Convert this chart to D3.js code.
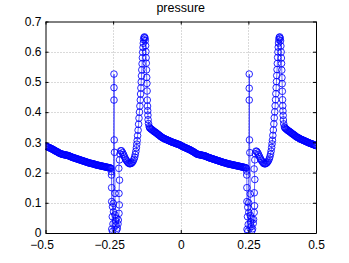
<!DOCTYPE html>
<html>
<head>
<meta charset="utf-8">
<script src="https://cdn.jsdelivr.net/npm/d3@7"></script>
<style>
  html, body { margin: 0; padding: 0; background: #fff; }
  svg text { font-family: "Liberation Sans", Arial, Helvetica, sans-serif; fill: #000; }
</style>
</head>
<body>
<svg id="chart" width="349" height="263"></svg>
<script>
// pressure profile as [x, p] pairs, segment by segment
var smoothLeft = [
  [-0.5000,0.288],[-0.4975,0.287],[-0.4950,0.286],[-0.4925,0.285],[-0.4900,0.284],[-0.4875,0.283],
  [-0.4850,0.282],[-0.4825,0.281],[-0.4800,0.280],[-0.4775,0.279],[-0.4750,0.278],[-0.4725,0.276],
  [-0.4700,0.275],[-0.4675,0.274],[-0.4650,0.273],[-0.4625,0.271],[-0.4600,0.270],[-0.4575,0.269],
  [-0.4550,0.268],[-0.4525,0.266],[-0.4500,0.265],[-0.4475,0.264],[-0.4450,0.263],[-0.4425,0.262],
  [-0.4400,0.261],[-0.4375,0.2605],[-0.4350,0.260],[-0.4325,0.2595],[-0.4300,0.259],[-0.4275,0.2585],
  [-0.4250,0.258],[-0.4225,0.2575],[-0.4200,0.257],[-0.4175,0.2565],[-0.4150,0.256],[-0.4125,0.255],
  [-0.4100,0.254],[-0.4075,0.253],[-0.4050,0.252],[-0.4025,0.251],[-0.4000,0.250],[-0.3975,0.2495],
  [-0.3950,0.249],[-0.3925,0.248],[-0.3900,0.247],[-0.3875,0.2465],[-0.3850,0.246],[-0.3825,0.245],
  [-0.3800,0.244],[-0.3775,0.2435],[-0.3750,0.243],[-0.3725,0.242],[-0.3700,0.241],[-0.3675,0.2405],
  [-0.3650,0.240],[-0.3625,0.239],[-0.3600,0.238],[-0.3575,0.2375],[-0.3550,0.237],[-0.3525,0.236],
  [-0.3500,0.235],[-0.3475,0.2345],[-0.3450,0.234],[-0.3425,0.233],[-0.3400,0.232],[-0.3375,0.2315],
  [-0.3350,0.231],[-0.3325,0.2305],[-0.3300,0.230],[-0.3275,0.2295],[-0.3250,0.229],[-0.3225,0.2285],
  [-0.3200,0.228],[-0.3175,0.227],[-0.3150,0.226],[-0.3125,0.2255],[-0.3100,0.225],[-0.3075,0.2245],
  [-0.3050,0.224],[-0.3025,0.2235],[-0.3000,0.223],[-0.2975,0.2225],[-0.2950,0.222],[-0.2925,0.2215],
  [-0.2900,0.221],[-0.2875,0.2205],[-0.2850,0.220],[-0.2825,0.2195],[-0.2800,0.219],[-0.2775,0.2185],
  [-0.2750,0.218],[-0.2725,0.2175],[-0.2700,0.217],[-0.2675,0.2165],[-0.2650,0.216],[-0.2625,0.2155],
  [-0.2600,0.215],[-0.2575,0.214]
];
var spikeA = [
  [-0.2565,0.203],[-0.2560,0.192],[-0.2555,0.150],[-0.2553,0.104],[-0.2523,0.087],[-0.2530,0.054],
  [-0.2549,0.013],[-0.2520,0.005],[-0.2505,0.030],[-0.2486,0.070],[-0.2494,0.098],[-0.2468,0.440],
  [-0.2468,0.481],[-0.2468,0.526],[-0.2460,0.308],[-0.2449,0.267],[-0.2431,0.131],[-0.2431,0.060],
  [-0.2410,0.040],[-0.2368,0.049],[-0.2394,0.026],[-0.2368,0.010],[-0.2346,0.016],[-0.2320,0.030],
  [-0.2309,0.043],[-0.2283,0.065],[-0.2272,0.093],[-0.2283,0.131],[-0.2264,0.175],[-0.2290,0.214],
  [-0.2264,0.242],[-0.2246,0.262],[-0.2220,0.272],[-0.2190,0.272]
];
var peakA = [
  [-0.2150,0.266],[-0.2120,0.260],[-0.2090,0.254],[-0.2060,0.248],[-0.2030,0.243],[-0.2000,0.239],
  [-0.1970,0.235],[-0.1940,0.232],[-0.1910,0.230],[-0.1880,0.229],[-0.1850,0.230],[-0.1820,0.231],
  [-0.1790,0.234],[-0.1760,0.238],[-0.1730,0.244],[-0.1705,0.251],[-0.1680,0.260],[-0.1660,0.270],
  [-0.1640,0.282],[-0.1625,0.294],[-0.1610,0.306],[-0.1595,0.322],[-0.1577,0.340],[-0.1558,0.360],
  [-0.1543,0.380],[-0.1525,0.400],[-0.1510,0.420],[-0.1495,0.440],[-0.1484,0.460],[-0.1473,0.480],
  [-0.1462,0.500],[-0.1451,0.520],[-0.1440,0.540],[-0.1429,0.560],[-0.1418,0.580],[-0.1407,0.598],
  [-0.1396,0.614],[-0.1384,0.628],[-0.1373,0.640],[-0.1359,0.647],[-0.1340,0.649],[-0.1322,0.645],
  [-0.1311,0.637],[-0.1299,0.620],[-0.1288,0.600],[-0.1281,0.580],[-0.1274,0.562],[-0.1266,0.540],
  [-0.1259,0.515],[-0.1251,0.495],[-0.1244,0.470],[-0.1237,0.440],[-0.1229,0.420],[-0.1222,0.405],
  [-0.1214,0.390],[-0.1207,0.375],[-0.1192,0.362],[-0.1166,0.352]
];
var smoothMid = [
  [-0.1150,0.348],[-0.1125,0.346],[-0.1100,0.344],[-0.1075,0.3425],[-0.1050,0.341],[-0.1025,0.339],
  [-0.1000,0.337],[-0.0975,0.3355],[-0.0950,0.334],[-0.0925,0.3325],[-0.0900,0.331],[-0.0875,0.329],
  [-0.0850,0.327],[-0.0825,0.3255],[-0.0800,0.324],[-0.0775,0.322],[-0.0750,0.320],[-0.0725,0.3185],
  [-0.0700,0.317],[-0.0675,0.3155],[-0.0650,0.314],[-0.0625,0.313],[-0.0600,0.312],[-0.0575,0.311],
  [-0.0550,0.310],[-0.0525,0.309],[-0.0500,0.308],[-0.0475,0.307],[-0.0450,0.306],[-0.0425,0.305],
  [-0.0400,0.304],[-0.0375,0.303],[-0.0350,0.302],[-0.0325,0.301],[-0.0300,0.300],[-0.0275,0.2995],
  [-0.0250,0.299],[-0.0225,0.298],[-0.0200,0.297],[-0.0175,0.296],[-0.0150,0.295],[-0.0125,0.2945],
  [-0.0100,0.294],[-0.0075,0.293],[-0.0050,0.292],[-0.0025,0.291],[0.0000,0.290],[0.0025,0.2885],
  [0.0050,0.287],[0.0075,0.286],[0.0100,0.285],[0.0125,0.284],[0.0150,0.283],[0.0175,0.282],
  [0.0200,0.281],[0.0225,0.280],[0.0250,0.279],[0.0275,0.278],[0.0300,0.277],[0.0325,0.276],
  [0.0350,0.275],[0.0375,0.2735],[0.0400,0.272],[0.0425,0.271],[0.0450,0.270],[0.0475,0.2685],
  [0.0500,0.267],[0.0525,0.2655],[0.0550,0.264],[0.0575,0.2625],[0.0600,0.261],[0.0625,0.2605],
  [0.0650,0.260],[0.0675,0.2595],[0.0700,0.259],[0.0725,0.2585],[0.0750,0.258],[0.0775,0.2575],
  [0.0800,0.257],[0.0825,0.2565],[0.0850,0.256],[0.0875,0.2555],[0.0900,0.255],[0.0925,0.254],
  [0.0950,0.253],[0.0975,0.252],[0.1000,0.251],[0.1025,0.250],[0.1050,0.249],[0.1075,0.2485],
  [0.1100,0.248],[0.1125,0.247],[0.1150,0.246],[0.1175,0.2455],[0.1200,0.245],[0.1225,0.244],
  [0.1250,0.243],[0.1275,0.2425],[0.1300,0.242],[0.1325,0.241],[0.1350,0.240],[0.1375,0.2395],
  [0.1400,0.239],[0.1425,0.238],[0.1450,0.237],[0.1475,0.2365],[0.1500,0.236],[0.1525,0.235],
  [0.1550,0.234],[0.1575,0.2335],[0.1600,0.233],[0.1625,0.2325],[0.1650,0.232],[0.1675,0.231],
  [0.1700,0.230],[0.1725,0.2295],[0.1750,0.229],[0.1775,0.2285],[0.1800,0.228],[0.1825,0.2275],
  [0.1850,0.227],[0.1875,0.2265],[0.1900,0.226],[0.1925,0.2255],[0.1950,0.225],[0.1975,0.2245],
  [0.2000,0.224],[0.2025,0.2235],[0.2050,0.223],[0.2075,0.2225],[0.2100,0.222],[0.2125,0.2215],
  [0.2150,0.221],[0.2175,0.2205],[0.2200,0.220],[0.2225,0.2195],[0.2250,0.219],[0.2275,0.2185],
  [0.2300,0.218],[0.2325,0.2175],[0.2350,0.217],[0.2375,0.2165],[0.2400,0.216],[0.2425,0.215]
];
var spikeB = [
  [0.2435,0.205],[0.2440,0.192],[0.2445,0.150],[0.2447,0.104],[0.2478,0.085],[0.2468,0.054],
  [0.2450,0.012],[0.2482,0.006],[0.2495,0.028],[0.2515,0.068],[0.2508,0.100],[0.2532,0.440],
  [0.2532,0.479],[0.2532,0.526],[0.2540,0.308],[0.2553,0.266],[0.2570,0.129],[0.2572,0.058],
  [0.2590,0.036],[0.2630,0.047],[0.2605,0.021],[0.2632,0.008],[0.2655,0.014],[0.2680,0.032],
  [0.2692,0.045],[0.2715,0.068],[0.2728,0.090],[0.2718,0.133],[0.2738,0.177],[0.2712,0.212],
  [0.2738,0.242],[0.2755,0.262],[0.2782,0.271],[0.2812,0.270]
];
var peakB = [
  [0.2850,0.265],[0.2880,0.259],[0.2910,0.253],[0.2940,0.247],[0.2970,0.242],[0.3000,0.238],
  [0.3030,0.234],[0.3060,0.231],[0.3090,0.229],[0.3120,0.229],[0.3150,0.230],[0.3180,0.232],
  [0.3210,0.235],[0.3240,0.239],[0.3270,0.245],[0.3295,0.252],[0.3320,0.261],[0.3340,0.271],
  [0.3360,0.283],[0.3375,0.295],[0.3390,0.307],[0.3405,0.323],[0.3423,0.341],[0.3442,0.361],
  [0.3457,0.381],[0.3475,0.401],[0.3490,0.421],[0.3505,0.441],[0.3516,0.461],[0.3527,0.481],
  [0.3538,0.501],[0.3549,0.521],[0.3560,0.541],[0.3571,0.561],[0.3582,0.581],[0.3593,0.599],
  [0.3604,0.615],[0.3616,0.629],[0.3627,0.640],[0.3641,0.647],[0.3660,0.649],[0.3678,0.644],
  [0.3689,0.636],[0.3701,0.619],[0.3712,0.599],[0.3719,0.579],[0.3726,0.561],[0.3734,0.539],
  [0.3741,0.514],[0.3749,0.494],[0.3756,0.469],[0.3763,0.441],[0.3771,0.421],[0.3778,0.404],
  [0.3786,0.389],[0.3793,0.374],[0.3808,0.361],[0.3834,0.351]
];
var smoothRight = [
  [0.3850,0.348],[0.3875,0.346],[0.3900,0.344],[0.3925,0.342],[0.3950,0.340],[0.3975,0.3385],
  [0.4000,0.337],[0.4025,0.3355],[0.4050,0.334],[0.4075,0.332],[0.4100,0.330],[0.4125,0.3285],
  [0.4150,0.327],[0.4175,0.3255],[0.4200,0.324],[0.4225,0.322],[0.4250,0.320],[0.4275,0.3185],
  [0.4300,0.317],[0.4325,0.316],[0.4350,0.315],[0.4375,0.3135],[0.4400,0.312],[0.4425,0.311],
  [0.4450,0.310],[0.4475,0.309],[0.4500,0.308],[0.4525,0.307],[0.4550,0.306],[0.4575,0.305],
  [0.4600,0.304],[0.4625,0.303],[0.4650,0.302],[0.4675,0.301],[0.4700,0.300],[0.4725,0.299],
  [0.4750,0.298],[0.4775,0.297],[0.4800,0.296],[0.4825,0.2955],[0.4850,0.295],[0.4875,0.294],
  [0.4900,0.293],[0.4925,0.292],[0.4950,0.291],[0.4975,0.290],[0.5000,0.289]
];

var xTicks = [-0.5, -0.25, 0, 0.25, 0.5];
var yTicks = [0, 0.1, 0.2, 0.3, 0.4, 0.5, 0.6, 0.7];
var chartTitle = "pressure";

var series = [].concat(smoothLeft, spikeA, peakA, smoothMid, spikeB, peakB, smoothRight);

var plotLeft = 45.5, plotRight = 316, plotTop = 21.5, plotBottom = 233;

var svg = d3.select("#chart");

var x = d3.scaleLinear().domain([-0.5, 0.5]).range([plotLeft, plotRight]);
var y = d3.scaleLinear().domain([0, 0.7]).range([plotBottom, plotTop]);

// dotted grid
var grid = svg.append("g").attr("stroke", "#b4b4b4").attr("stroke-width", 1)
  .attr("stroke-dasharray", "1,2");
grid.selectAll(".gx").data(xTicks.slice(1, -1)).enter().append("line")
  .attr("x1", d => Math.round(x(d)) + 0.5).attr("x2", d => Math.round(x(d)) + 0.5)
  .attr("y1", plotTop).attr("y2", plotBottom);
grid.selectAll(".gy").data(yTicks.slice(1, -1)).enter().append("line")
  .attr("y1", d => Math.round(y(d)) + 0.5).attr("y2", d => Math.round(y(d)) + 0.5)
  .attr("x1", plotLeft).attr("x2", plotRight);

// data
svg.append("clipPath").attr("id", "plotclip").append("rect")
  .attr("x", plotLeft).attr("y", plotTop)
  .attr("width", plotRight - plotLeft).attr("height", plotBottom - plotTop);

var plot = svg.append("g").attr("clip-path", "url(#plotclip)");

var line = d3.line().x(d => x(d[0])).y(d => y(d[1]));

plot.append("path").datum(series)
  .attr("fill", "none").attr("stroke", "#0000ff").attr("stroke-width", 0.6)
  .attr("d", line);

plot.selectAll("circle").data(series).enter().append("circle")
  .attr("cx", d => x(d[0])).attr("cy", d => y(d[1])).attr("r", 3.3)
  .attr("fill", "none").attr("stroke", "#0000ff").attr("stroke-width", 0.85);

// axes, ticks pointing inward on all four sides
var fmt = d => String(d).replace("-", "\u2212");

var gx = svg.append("g").attr("transform", "translate(0," + plotBottom + ")")
  .call(d3.axisBottom(x).tickValues(xTicks).tickFormat(fmt).tickSize(-3).tickSizeOuter(0).tickPadding(7));
gx.selectAll("text").attr("dx", d => d < 0 ? -4 : 0);

svg.append("g").attr("transform", "translate(" + plotLeft + ",0)")
  .call(d3.axisLeft(y).tickValues(yTicks).tickFormat(fmt).tickSize(-3).tickSizeOuter(0).tickPadding(4));

svg.append("g").attr("transform", "translate(0," + plotTop + ")")
  .call(d3.axisTop(x).tickValues(xTicks).tickFormat("").tickSize(-3).tickSizeOuter(0));

svg.append("g").attr("transform", "translate(" + plotRight + ",0)")
  .call(d3.axisRight(y).tickValues(yTicks).tickFormat("").tickSize(-3).tickSizeOuter(0));

svg.selectAll(".tick text").attr("font-size", 12).attr("font-family", "Liberation Sans, Arial, sans-serif");
svg.selectAll(".domain").attr("stroke", "#000");

svg.append("text")
  .attr("x", (plotLeft + plotRight) / 2).attr("y", 11.5)
  .attr("text-anchor", "middle").attr("font-size", 12.5)
  .text(chartTitle);
</script>
</body>
</html>
